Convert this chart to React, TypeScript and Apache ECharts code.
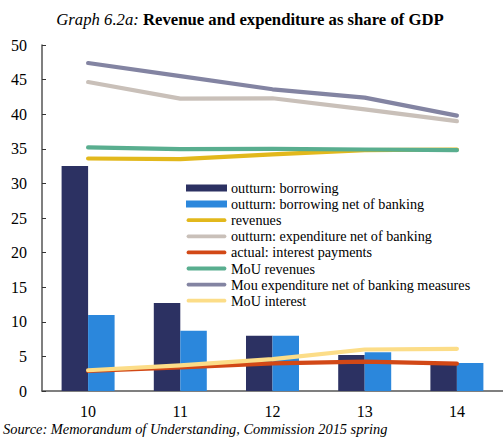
import React, { useEffect, useRef } from "react";
import * as echarts from "echarts";

const categories = ["10", "11", "12", "13", "14"];
const borrowing = [32.5, 12.7, 8.0, 5.2, 4.0];
const borrowingNetBanking = [11.0, 8.7, 8.0, 5.6, 4.05];
const revenues = [33.6, 33.5, 34.2, 34.8, 34.9];
const expenditureNetBanking = [44.65, 42.25, 42.3, 40.7, 39.0];
const interestPayments = [2.9, 3.4, 4.0, 4.25, 3.95];
const mouRevenues = [35.2, 34.95, 35.0, 34.9, 34.8];
const mouExpenditure = [47.4, 45.5, 43.6, 42.4, 39.8];
const mouInterest = [3.0, 3.7, 4.6, 6.0, 6.1];
const yTicks = { min: 0, max: 50, interval: 5 };

const FONT = "'Liberation Serif', 'Times New Roman', serif";
const LINE_ICON = "path://M0,0 M2,1.6 L39,1.6 A2,2 0 0 1 39,5.4 L2,5.4 A2,2 0 0 1 2,1.6 Z M41,7";
const BAR_ICON = "path://M0,0 L41,0 L41,7 L0,7 Z";

export default function App() {
  const ref = useRef<HTMLDivElement>(null);
  useEffect(() => {
    if (!ref.current) return;
    const chart = echarts.init(ref.current, null, { renderer: "svg" });
    const lineSeries = (name: string, data: number[], color: string) => ({
      name,
      type: "line",
      data,
      symbol: "none",
      smooth: false,
      lineStyle: { color, width: 4.2, cap: "round", join: "round" },
      itemStyle: { color },
      z: 3,
    });
    chart.setOption({
      animation: false,
      textStyle: { fontFamily: FONT },
      title: {
        text: "{i|Graph 6.2a:} {b|Revenue and expenditure as share of GDP}",
        left: 245,
        textAlign: "center",
        top: 6,
        textStyle: {
          fontFamily: FONT,
          fontWeight: "normal",
          fontSize: 16.7,
          rich: {
            i: { fontFamily: FONT, fontStyle: "italic", fontWeight: "normal", fontSize: 16.7, color: "#000" },
            b: { fontFamily: FONT, fontStyle: "normal", fontWeight: "bold", fontSize: 16.7, color: "#000" },
          },
        },
      },
      grid: { left: 42, top: 45, right: -3.4, bottom: 51, containLabel: false },
      legend: {
        left: 186,
        top: 181,
        padding: 0,
        orient: "vertical",
        itemWidth: 41,
        itemHeight: 7,
        itemGap: 2.1,
        textStyle: { fontFamily: FONT, fontSize: 14.2, color: "#000", lineHeight: 14, padding: [0, 0, 0, -1] },
        data: [
          { name: "outturn: borrowing", icon: BAR_ICON },
          { name: "outturn: borrowing net of banking", icon: BAR_ICON },
          { name: "revenues", icon: LINE_ICON },
          { name: "outturn: expenditure net of banking", icon: LINE_ICON },
          { name: "actual: interest payments", icon: LINE_ICON },
          { name: "MoU revenues", icon: LINE_ICON },
          { name: "Mou expenditure net of banking measures", icon: LINE_ICON },
          { name: "MoU interest", icon: LINE_ICON },
        ],
      },
      xAxis: {
        type: "category",
        data: categories,
        boundaryGap: true,
        axisLine: { lineStyle: { color: "#555", width: 1.5 } },
        axisTick: { inside: true, length: 4, lineStyle: { color: "#333" } },
        axisLabel: { fontFamily: FONT, fontSize: 16, color: "#000", margin: 12 },
      },
      yAxis: {
        type: "value",
        min: yTicks.min,
        max: yTicks.max,
        interval: yTicks.interval,
        splitLine: { show: false },
        axisLine: { show: true, lineStyle: { color: "#555", width: 1.5 } },
        axisTick: { show: true, inside: true, length: 4, lineStyle: { color: "#333" } },
        axisLabel: { fontFamily: FONT, fontSize: 16, color: "#000", margin: 15 },
      },
      graphic: [
        {
          type: "text",
          left: 3,
          top: 422,
          style: {
            text: "Source: Memorandum of Understanding, Commission 2015 spring",
            fontFamily: FONT,
            fontStyle: "italic",
            fontSize: 14.4,
            fill: "#000",
          },
        },
      ],
      series: [
        {
          name: "outturn: borrowing",
          type: "bar",
          data: borrowing,
          barWidth: 26.5,
          barGap: "0%",
          itemStyle: { color: "#2c3162" },
        },
        {
          name: "outturn: borrowing net of banking",
          type: "bar",
          data: borrowingNetBanking,
          barWidth: 26.5,
          barGap: "0%",
          itemStyle: { color: "#2b87dc" },
        },
        lineSeries("revenues", revenues, "#e2b81c"),
        lineSeries("outturn: expenditure net of banking", expenditureNetBanking, "#c9c0b9"),
        lineSeries("actual: interest payments", interestPayments, "#d24816"),
        lineSeries("MoU revenues", mouRevenues, "#59ae8f"),
        lineSeries("Mou expenditure net of banking measures", mouExpenditure, "#8384a2"),
        lineSeries("MoU interest", mouInterest, "#fcdd88"),
      ],
    });
    return () => chart.dispose();
  }, []);
  return <div ref={ref} style={{ width: 503, height: 442, position: "absolute", left: 0, top: 0 }} />;
}
